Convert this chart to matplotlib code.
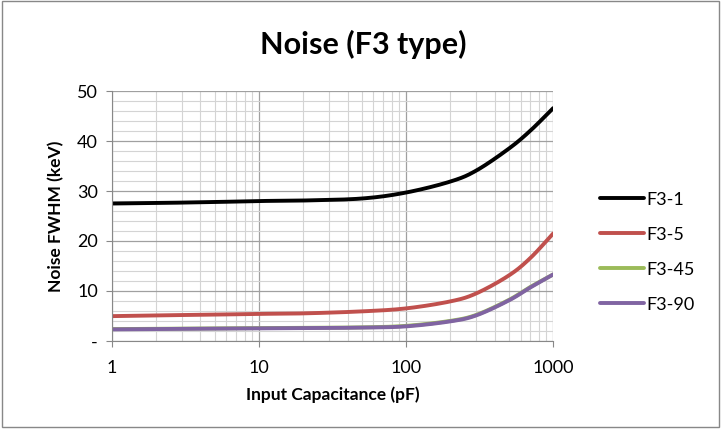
import numpy as np
import matplotlib
matplotlib.use("Agg")
import matplotlib.pyplot as plt
from matplotlib.ticker import FuncFormatter, LogLocator, MultipleLocator
from matplotlib.patches import Rectangle

plt.rcParams["font.family"] = ["Lato", "DejaVu Sans"]

# input capacitance (pF)
cap = [1, 2, 5, 10, 20, 50, 100, 200, 300, 500, 700, 1000]

f3_1 = [27.5, 27.6, 27.8, 28.0, 28.1, 28.5, 29.7, 31.9, 34.1, 38.5, 42.1, 46.6]
f3_5 = [4.95, 5.1, 5.25, 5.4, 5.5, 5.9, 6.5, 7.9, 9.5, 13.1, 16.6, 21.5]
f3_45 = [2.35, 2.4, 2.5, 2.55, 2.6, 2.7, 3.0, 4.0, 5.2, 8.2, 10.8, 13.3]
f3_90 = [2.3, 2.35, 2.45, 2.5, 2.55, 2.65, 2.9, 3.9, 5.1, 8.1, 10.7, 13.3]

series = [
    ("F3-1", f3_1, "#000000"),
    ("F3-5", f3_5, "#c0504d"),
    ("F3-45", f3_45, "#9bbb59"),
    ("F3-90", f3_90, "#8064a2"),
]


def smooth(x, y, n=30):
    """Catmull-Rom curve through the points in log-x, like Excel's smoothed line."""
    px = np.log10(np.asarray(x, float))
    py = np.asarray(y, float)
    px = np.concatenate([[2 * px[0] - px[1]], px, [2 * px[-1] - px[-2]]])
    py = np.concatenate([[2 * py[0] - py[1]], py, [2 * py[-1] - py[-2]]])
    t = np.linspace(0, 1, n)[:, None]
    outx, outy = [], []
    for i in range(1, len(px) - 2):
        p = np.array([[px[j], py[j]] for j in range(i - 1, i + 3)])
        seg = 0.5 * ((2 * p[1]) + (-p[0] + p[2]) * t
                     + (2 * p[0] - 5 * p[1] + 4 * p[2] - p[3]) * t ** 2
                     + (-p[0] + 3 * p[1] - 3 * p[2] + p[3]) * t ** 3)
        outx.append(seg[:, 0])
        outy.append(seg[:, 1])
    return 10 ** np.concatenate(outx), np.concatenate(outy)


fig = plt.figure(figsize=(7.26, 4.32), dpi=100)
ax = fig.add_axes([0.154, 0.211, 0.608, 0.578])

for label, vals, color in series:
    xs, ys = smooth(cap, vals)
    ax.plot(xs, ys, color=color, lw=2.8, label=label, solid_capstyle="round")

ax.set_xscale("log")
ax.set_xlim(1, 1000)
ax.set_ylim(0, 50)
ax.yaxis.set_major_locator(MultipleLocator(10))
ax.yaxis.set_minor_locator(MultipleLocator(2))
ax.xaxis.set_minor_locator(LogLocator(base=10, subs=np.arange(2, 10)))
ax.yaxis.set_major_formatter(FuncFormatter(lambda v, p: "-" if v == 0 else f"{v:.0f}"))
ax.xaxis.set_major_formatter(FuncFormatter(lambda v, p: f"{v:.0f}"))
ax.xaxis.set_minor_formatter(FuncFormatter(lambda v, p: ""))

ax.grid(which="major", color="#a0a0a0", lw=0.9)
ax.grid(which="minor", color="#d4d4d4", lw=0.8)
ax.set_axisbelow(True)
for s in ("top", "right"):
    ax.spines[s].set_visible(False)
for s in ("left", "bottom"):
    ax.spines[s].set_color("#888888")
ax.tick_params(which="major", length=4, color="#888888", labelsize=13, pad=6)
ax.tick_params(which="minor", length=0)
ax.tick_params(axis="x", pad=10)

ax.set_xlabel("Input Capacitance (pF)", fontsize=12.5, fontweight="bold", labelpad=7)
ax.set_ylabel("Noise FWHM (keV)", fontsize=12.5, fontweight="bold", labelpad=9)
fig.suptitle("Noise (F3 type)", fontsize=22, fontweight="bold", y=0.93)

ax.legend(loc="center left", bbox_to_anchor=(1.07, 0.355), frameon=False,
          fontsize=13, handlelength=2.4, labelspacing=1.05, handletextpad=0.15)

fig.patches.append(Rectangle((0.003, 0.012), 0.988, 0.985, transform=fig.transFigure,
                             fill=False, edgecolor="#888888", lw=1))

fig.savefig("out.png", dpi=100)
